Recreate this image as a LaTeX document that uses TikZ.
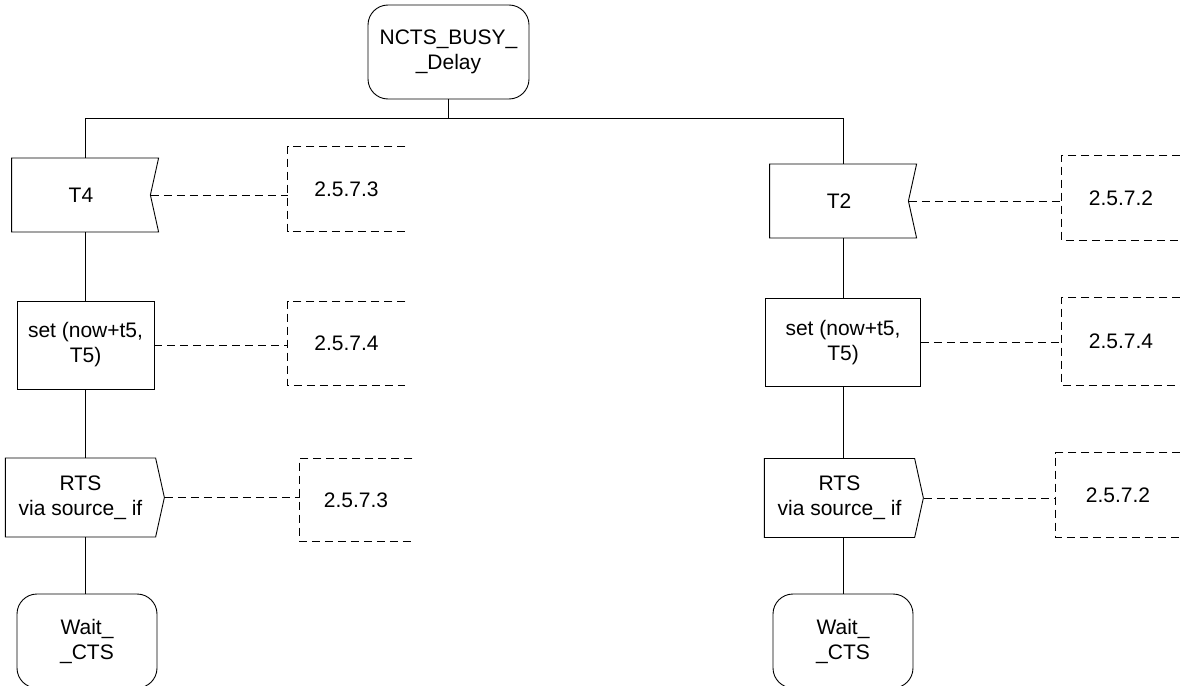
\documentclass[tikz,border=0pt]{standalone}
\usepackage{fontspec}
\setmainfont{Liberation Sans}
\usetikzlibrary{positioning, shapes.symbols}

\begin{document}
\begin{tikzpicture}[
        x=1pt, y=-1pt,
        line width=0.9pt,
        font=\fontsize{21}{25}\selectfont,
        state/.style={draw, rectangle, rounded corners=20pt, minimum width=140pt, minimum height=94pt, inner sep=0pt, align=center},
        timer/.style={draw, signal, signal to=nowhere, signal from=east, signal pointer angle=155, minimum width=147pt, minimum height=74pt, inner sep=0pt, align=center},
        task/.style={draw, rectangle, minimum width=137pt, minimum height=88pt, inner sep=0pt, align=center},
        sendsig/.style={draw, signal, signal to=east, signal pointer angle=155, minimum width=159pt, minimum height=79pt, inner sep=0pt, align=center},
        comment/.style={rectangle, minimum width=117pt, minimum height=84pt, inner sep=0pt},
        bracket/.style={dash pattern=on 8pt off 5pt},
    ]
        \useasboundingbox (0,0) rectangle (1180,685);

        % Draw the start state and the fork
        \node[state, minimum width=161pt] (start) at (448.5,52) {NCTS\_BUSY\_\\\_Delay};
        \coordinate (fork) at (448.5,118);

        % Draw the left branch
        \node[timer] (T-L) at (81,195) {T4};
        \node[task, minimum width=137pt] (S-L) at (85.5,345) {set (now+t5,\\T5)};
        \node[sendsig] (O-L) at (80.5,497.5) {RTS\\via source\_ if};
        \node[state] (W-L) at (87,641) {Wait\_\\\_CTS};

        % Draw the right branch
        \node[timer] (T-R) at (839,201) {T2};
        \node[task, minimum width=155pt] (S-R) at (843,342.5) {set (now+t5,\\T5)};
        \node[sendsig] (O-R) at (839.5,498) {RTS\\via source\_ if};
        \node[state] (W-R) at (843,641) {Wait\_\\\_CTS};

        % Draw the comments
        \node[comment] (C-T-L) at (346.5,189) {2.5.7.3};
        \node[comment, minimum height=83pt] (C-S-L) at (346.5,343.5) {2.5.7.4};
        \node[comment, minimum width=112pt, minimum height=82pt] (C-O-L) at (356,500) {2.5.7.3};
        \node[comment, minimum width=118pt] (C-T-R) at (1121,198) {2.5.7.2};
        \node[comment, minimum width=118pt, minimum height=87pt] (C-S-R) at (1121,341.5) {2.5.7.4};
        \node[comment, minimum width=124pt] (C-O-R) at (1118,495) {2.5.7.2};

        % Open dashed brackets round the comments
        \foreach \name in {T-L, S-L, O-L, T-R, S-R, O-R}
            \draw[bracket] (C-\name.north east) -- (C-\name.north west) -- (C-\name.south west) -- (C-\name.south east);

        % Connect the start state with both branches
        \draw (start.south) -- (fork);
        \draw (fork) -| (S-L.north |- T-L.north);
        \draw (fork) -| (S-R.north |- T-R.north);

        % Connect the symbols down each branch
        \foreach \col in {L, R} {
            \draw (S-\col.north |- T-\col.south) -- (S-\col.north);
            \draw (S-\col.south) -- (S-\col.south |- O-\col.north);
            \draw (S-\col.south |- O-\col.south) -- (S-\col.south |- W-\col.north);
        }

        % Attach every symbol to its comment
        \foreach \name in {T-L, S-L, O-L, T-R, S-R, O-R}
            \draw[bracket] (\name.east) -- (\name.east -| C-\name.west);
    \end{tikzpicture}
\end{document}
